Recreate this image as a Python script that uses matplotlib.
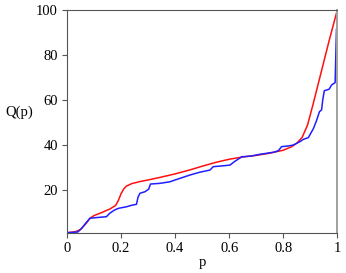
import matplotlib
matplotlib.use("Agg")
import matplotlib.pyplot as plt

# smooth curve (red)
red_p = [0, 0.03, 0.05, 0.07, 0.085, 0.1, 0.13, 0.16, 0.18, 0.19, 0.2, 0.21, 0.22,
         0.24, 0.27, 0.3, 0.35, 0.4, 0.45, 0.5, 0.55, 0.6, 0.65, 0.7, 0.75, 0.8,
         0.83, 0.85, 0.87, 0.89, 0.91, 0.93, 0.95, 0.97, 1.0]
red_q = [1.2, 1.6, 2.6, 5.2, 7.6, 8.8, 10.2, 11.8, 13.3, 15.5, 18.5, 20.6, 21.9,
         23.0, 23.9, 24.6, 25.9, 27.3, 28.9, 30.7, 32.4, 33.8, 34.8, 35.5, 36.5, 37.8,
         39.3, 40.9, 43.5, 49.0, 58.0, 67.5, 77.0, 86.5, 100.0]

# empirical curve (blue)
blue_p = [0, 0.04, 0.054, 0.07, 0.085, 0.1, 0.146, 0.158, 0.175, 0.19, 0.22, 0.24,
          0.257, 0.263, 0.27, 0.289, 0.297, 0.302, 0.309, 0.344, 0.381, 0.4, 0.455,
          0.49, 0.529, 0.541, 0.57, 0.603, 0.62, 0.647, 0.68, 0.714, 0.764, 0.782,
          0.794, 0.819, 0.837, 0.85, 0.862, 0.874, 0.893, 0.912, 0.924, 0.934,
          0.942, 0.946, 0.952, 0.97, 0.979, 0.992, 0.997, 1.0]
blue_q = [1.2, 1.5, 3.1, 5.5, 7.6, 7.8, 8.3, 9.8, 11.2, 12.0, 12.7, 13.4,
          13.8, 17.0, 18.7, 19.4, 20.1, 20.5, 22.8, 23.1, 23.8, 24.6, 26.8,
          28.0, 29.0, 30.5, 30.8, 31.2, 32.8, 34.9, 35.2, 36.0, 36.9, 37.6,
          39.4, 39.7, 40.1, 40.9, 41.6, 42.6, 43.4, 47.5, 51.2, 54.9,
          55.7, 60.0, 64.2, 64.9, 66.8, 67.8, 91.5, 92.0]

x_ticks = [0, 0.2, 0.4, 0.6, 0.8, 1]
x_tick_labels = ["0", "0.2", "0.4", "0.6", "0.8", "1"]
y_ticks = [20, 40, 60, 80, 100]

plt.rcParams["font.family"] = ["Liberation Serif", "DejaVu Serif"]

fig = plt.figure(figsize=(3.46, 2.73), dpi=100)
ax = fig.add_axes([0.1936, 0.1465, 0.7812, 0.8165])

ax.plot(red_p, red_q, color="#ff1010", linewidth=1.1)
ax.plot(blue_p, blue_q, color="#1f1fff", linewidth=1.1)

ax.set_xlim(0, 1)
ax.set_ylim(1.06, 100)
ax.set_xticks(x_ticks)
ax.set_xticklabels(x_tick_labels)
ax.set_yticks(y_ticks)

for side in ["left", "bottom", "top"]:
    ax.spines[side].set_color("#555555")
    ax.spines[side].set_linewidth(0.8)
ax.spines["right"].set_color("#a0a0a0")
ax.spines["right"].set_linewidth(1.4)

ax.tick_params(direction="out", length=3.5, width=0.8, color="#555555",
               labelsize=10.5, pad=3, top=False, right=False)

ax.set_xlabel("p", fontsize=10.5, labelpad=1)
ax.set_ylabel("Q(p)", fontsize=10.5, rotation=0, ha="center", va="center")
ax.yaxis.set_label_coords(-0.178, 0.54)

fig.savefig("out.png", dpi=100)
